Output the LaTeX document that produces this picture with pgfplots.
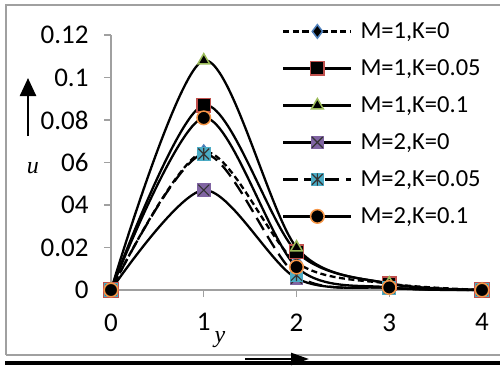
\documentclass[border=0pt]{standalone}
\usepackage{pgfplots}
\pgfplotsset{compat=1.18}
\usepackage{fontspec}
\setmainfont{Carlito}
\newfontfamily\serifit{Liberation Serif}
\usetikzlibrary{arrows.meta}
\definecolor{xblue}{HTML}{4F81BD}
\definecolor{xred}{HTML}{C0504D}
\definecolor{xgreen}{HTML}{9BBB59}
\definecolor{xpurple}{HTML}{8064A2}
\definecolor{xteal}{HTML}{4BACC6}
\definecolor{xorange}{HTML}{F79646}
\definecolor{axgray}{HTML}{A0A0A0}
\pgfdeclareplotmark{xbox}{%
  \pgfpathrectangle{\pgfqpoint{-\pgfplotmarksize}{-\pgfplotmarksize}}{\pgfqpoint{2\pgfplotmarksize}{2\pgfplotmarksize}}%
  \pgfusepath{fill}%
  \pgfpathmoveto{\pgfqpoint{-0.8\pgfplotmarksize}{-0.8\pgfplotmarksize}}%
  \pgfpathlineto{\pgfqpoint{0.8\pgfplotmarksize}{0.8\pgfplotmarksize}}%
  \pgfpathmoveto{\pgfqpoint{-0.8\pgfplotmarksize}{0.8\pgfplotmarksize}}%
  \pgfpathlineto{\pgfqpoint{0.8\pgfplotmarksize}{-0.8\pgfplotmarksize}}%
  \pgfusepath{stroke}}
\pgfdeclareplotmark{starbox}{%
  \pgfpathrectangle{\pgfqpoint{-\pgfplotmarksize}{-\pgfplotmarksize}}{\pgfqpoint{2\pgfplotmarksize}{2\pgfplotmarksize}}%
  \pgfusepath{fill}%
  \pgfpathmoveto{\pgfqpoint{-0.8\pgfplotmarksize}{-0.8\pgfplotmarksize}}%
  \pgfpathlineto{\pgfqpoint{0.8\pgfplotmarksize}{0.8\pgfplotmarksize}}%
  \pgfpathmoveto{\pgfqpoint{-0.8\pgfplotmarksize}{0.8\pgfplotmarksize}}%
  \pgfpathlineto{\pgfqpoint{0.8\pgfplotmarksize}{-0.8\pgfplotmarksize}}%
  \pgfpathmoveto{\pgfqpoint{0pt}{-0.9\pgfplotmarksize}}%
  \pgfpathlineto{\pgfqpoint{0pt}{0.9\pgfplotmarksize}}%
  \pgfusepath{stroke}}
\pgfplotstableread{
x   a      b      c      d      e      f
0   0      0      0      0      0      0
1   0.065  0.087  0.108  0.047  0.064  0.081
2   0.013  0.018  0.020  0.0055 0.007  0.0108
3   0.003  0.003  0.003  0.001  0.001  0.0012
4   0      0      0      0      0      0
}\datatable
\begin{document}
\begin{tikzpicture}[x=1pt,y=1pt]
\useasboundingbox (0,0) rectangle (500,365);
% outer frame
\draw[axgray, line width=1.5pt] (6,10) -- (6,360) -- (502,360);
\draw[axgray, line width=1.5pt] (6,10) -- (502,10);
\fill[black] (5,0) rectangle (502,4);
\begin{axis}[
  at={(111pt,75pt)}, anchor=south west,
  scale only axis, width=371pt, height=255pt,
  xmin=0, xmax=4, ymin=0, ymax=0.12,
  axis x line*=bottom, axis y line*=left,
  axis line style={axgray, line width=1.2pt, -},
  xtick={0,1,2,3,4},
  ytick={0,0.02,0.04,0.06,0.08,0.1,0.12},
  yticklabels={0,0.02,04,06,0.08,0.1,0.12},
  xticklabels={0,1,2,3,4},
  tick style={axgray, line width=1.2pt},
  tick align=outside, major tick length=7pt,
  ticklabel style={font=\fontsize{27}{30}\selectfont, text=black},
  yticklabel style={xshift=-12pt},
  xticklabel style={yshift=-13pt},
  /pgf/number format/assume math mode=true,
  clip=false,
  every axis plot/.append style={line width=2.3pt, black, smooth, tension=0.5},
  mark size=6.8pt,
  legend style={at={(0.461,1.062)}, anchor=north west, draw=none, fill=none,
     font=\fontsize{24.5}{28}\selectfont, row sep=13pt, inner sep=0pt,
     nodes={inner sep=2pt, text height=17pt, text depth=3pt},
     /tikz/every odd column/.append style={column sep=6pt}},
  legend cell align=left,
  legend image code/.code={\draw[#1, mark repeat=2, mark phase=2] plot coordinates {(0pt,0pt) (34pt,0pt) (68pt,0pt)};},
]
\addplot[dash pattern=on 6pt off 3.5pt, mark=diamond*, mark options={solid, fill=black, draw=xblue, line width=1.5pt}] table[x=x,y=a]{\datatable};
\addlegendentry{M=1,K=0}
\addplot[mark=square*, mark options={solid, fill=black, draw=xred, line width=1.5pt}] table[x=x,y=b]{\datatable};
\addlegendentry{M=1,K=0.05}
\addplot[mark=triangle*, mark options={solid, fill=black, draw=xgreen, line width=1.5pt}] table[x=x,y=c]{\datatable};
\addlegendentry{M=1,K=0.1}
\addplot[mark=xbox, mark options={solid, fill=xpurple, draw=black!80, line width=1.2pt}] table[x=x,y=d]{\datatable};
\addlegendentry{M=2,K=0}
\addplot[dash pattern=on 14pt off 7pt, mark=starbox, mark options={solid, fill=xteal, draw=black!80, line width=1.2pt}] table[x=x,y=e]{\datatable};
\addlegendentry{M=2,K=0.05}
\addplot[mark=*, mark options={solid, fill=black, draw=xorange, line width=1.5pt}] table[x=x,y=f]{\datatable};
\addlegendentry{M=2,K=0.1}
\end{axis}
% axis arrows and labels
\draw[-{Triangle[length=18pt,width=16pt]}, line width=2.5pt] (28,229) -- (28,287);
\node at (33,197) {\serifit\itshape\fontsize{24}{28}\selectfont u};
\node at (220,25) {\serifit\itshape\fontsize{24}{28}\selectfont y};
\draw[-{Triangle[length=18pt,width=12pt]}, line width=2.5pt] (245,6) -- (309,6);
\end{tikzpicture}
\end{document}
